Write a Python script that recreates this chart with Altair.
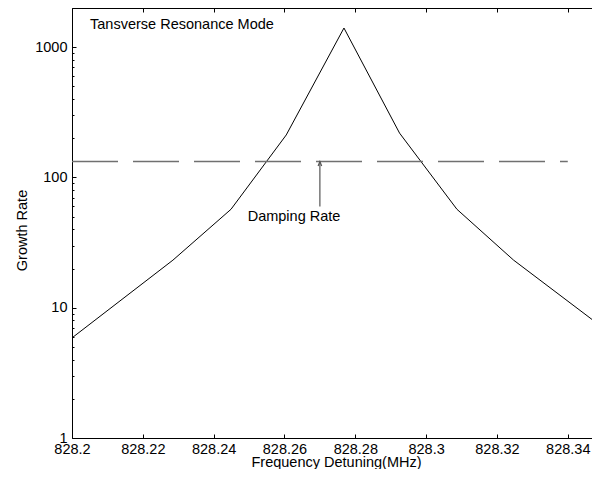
import altair as alt
import pandas as pd

# ---- data ----
freq = [828.2, 828.2285, 828.2449, 828.2605, 828.2768, 828.2925, 828.3087, 828.3247, 828.35]
growth = [5.87, 23.2, 57.0, 212.0, 1404.0, 219.0, 57.0, 23.2, 7.0]

damping_rate = [132.5]
damping_x_start = [828.2]
damping_x_end = [828.34]

arrow_x = [828.27]
arrow_y_top = [132.5]
arrow_y_bottom = [59.8]

label_text = ["Damping Rate"]
label_x = [828.2627]
label_y = [46.1]

title_text = ["Tansverse Resonance Mode"]
title_x = [828.2051]
title_y = [1378]

x_ticks = [828.2, 828.22, 828.24, 828.26, 828.28, 828.3, 828.32, 828.34]
y_ticks = [1, 10, 100, 1000]
y_minor = [2, 3, 4, 5, 6, 7, 8, 9, 20, 30, 40, 50, 60, 70, 80, 90,
           200, 300, 400, 500, 600, 700, 800, 900, 2000]
x_domain = [828.2, 828.3491]
y_domain = [1, 2000]

FONT = "Liberation Sans, Arial, Helvetica, sans-serif"
FS = 14.5

curve_df = pd.DataFrame({"freq": freq, "growth": growth})
damp_df = pd.DataFrame({"x0": damping_x_start, "x1": damping_x_end, "rate": damping_rate})
arrow_df = pd.DataFrame({"ax": arrow_x, "ay0": arrow_y_top, "ay1": arrow_y_bottom})
label_df = pd.DataFrame({"lx": label_x, "ly": label_y, "t": label_text})
title_df = pd.DataFrame({"tx": title_x, "ty": title_y, "t": title_text})

xs = alt.Scale(domain=x_domain, nice=False, zero=False)
ys = alt.Scale(type="log", domain=y_domain, nice=False)

common = dict(grid=False, tickColor="black", domainColor="black", labelColor="black")

ax_bottom_main = alt.Axis(
    orient="bottom", values=x_ticks, format=".2~f", ticks=False, tickSize=0,
    labelPadding=4, labelFont=FONT, labelFontSize=FS, labelFlush=False,
    labelOverlap=False, domainWidth=1,
    title="Frequency Detuning(MHz)", titleFont=FONT, titleFontSize=FS,
    titleFontWeight="normal", titleColor="black", titleX=264, titleY=28.5,
    titleBaseline="alphabetic", titleAlign="center", **common)
ax_left_main = alt.Axis(
    orient="left", values=y_ticks, format="d", ticks=False, tickSize=0,
    labelPadding=5, labelFont=FONT, labelFontSize=FS, labelFlush=False,
    labelOverlap=False, domainWidth=1,
    title="Growth Rate", titleFont=FONT, titleFontSize=FS,
    titleFontWeight="normal", titleColor="black", titleAngle=270,
    titleX=-45.5, titleY=222, titleBaseline="alphabetic", titleAlign="center",
    **common)
ax_bottom_ticks = alt.Axis(orient="bottom", values=x_ticks, offset=-4, tickSize=4,
                           domain=False, labels=False, title=None, **common)
ax_left_ticks = alt.Axis(orient="left", values=y_ticks, offset=-4, tickSize=4,
                         domain=False, labels=False, title=None, **common)
ax_left_minor = alt.Axis(orient="left", values=y_minor, offset=-2, tickSize=2,
                         domain=False, labels=False, title=None, **common)
ax_top_domain = alt.Axis(orient="top", ticks=False, labels=False, domain=True,
                         title=None, **common)
ax_top_ticks = alt.Axis(orient="top", values=x_ticks, offset=-4, tickSize=4,
                        domain=False, labels=False, title=None, **common)
ax_right_ticks = alt.Axis(orient="right", values=[10, 100, 1000], offset=-3, tickSize=3,
                          domain=False, labels=False, title=None, **common)

curve = alt.Chart(curve_df).mark_line(color="black", strokeWidth=1, clip=True).encode(
    x=alt.X("freq:Q", scale=xs, axis=ax_bottom_main),
    y=alt.Y("growth:Q", scale=ys, axis=ax_left_main),
)

damp = alt.Chart(damp_df).mark_rule(color="#707070", strokeWidth=1.5,
                                    strokeDash=[46, 15]).encode(
    x=alt.X("x0:Q", scale=xs, axis=ax_bottom_ticks),
    x2="x1:Q",
    y=alt.Y("rate:Q", scale=ys, axis=ax_left_ticks),
)

shaft = alt.Chart(arrow_df).mark_rule(color="#555555", strokeWidth=1.2).encode(
    x=alt.X("ax:Q", scale=xs, axis=ax_top_domain),
    y=alt.Y("ay0:Q", scale=ys, axis=ax_left_minor),
    y2="ay1:Q",
)

head = alt.Chart(arrow_df).mark_point(
    shape="M-0.8,1L0,-1L0.8,1", size=20, filled=False, color="#555555",
    strokeWidth=1.2, opacity=1, yOffset=2.2).encode(
    x=alt.X("ax:Q", scale=xs, axis=ax_top_ticks),
    y=alt.Y("ay0:Q", scale=ys, axis=ax_right_ticks),
)

label = alt.Chart(label_df).mark_text(font=FONT, fontSize=FS, align="center",
                                      baseline="alphabetic", color="black").encode(
    x=alt.X("lx:Q", scale=xs, axis=None),
    y=alt.Y("ly:Q", scale=ys, axis=None),
    text="t:N",
)

title = alt.Chart(title_df).mark_text(font=FONT, fontSize=FS, align="left",
                                      baseline="alphabetic", color="black").encode(
    x=alt.X("tx:Q", scale=xs, axis=None),
    y=alt.Y("ty:Q", scale=ys, axis=None),
    text="t:N",
)

chart = alt.layer(curve, damp, shaft, head, label, title).resolve_axis(
    x="independent", y="independent"
).properties(
    width=528, height=430,
    autosize=alt.AutoSizeParams(type="none"),
    padding={"left": 64, "top": 0, "right": -8, "bottom": 31},
    background="white",
).configure_view(stroke=None)

chart.save("out.html", embed_options={"renderer": "svg", "actions": False})
